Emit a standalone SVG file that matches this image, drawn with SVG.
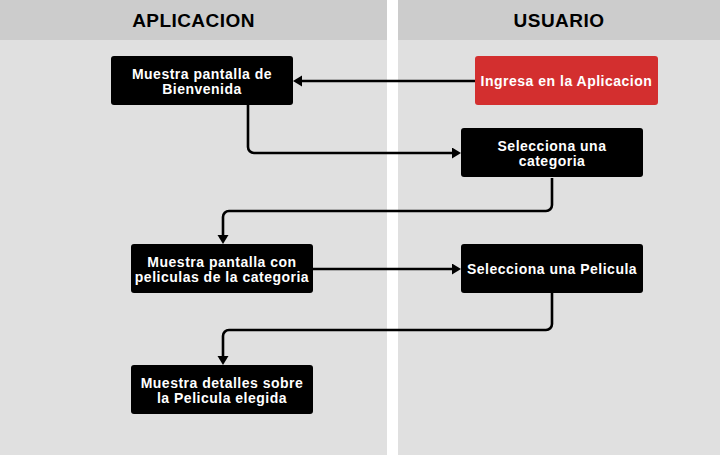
<svg xmlns="http://www.w3.org/2000/svg" width="720" height="456" viewBox="0 0 720 456">
<style>
.lane{fill:#e0e0e0}
.head{fill:#cccccc}
.title{font-family:"Liberation Sans",Arial,sans-serif;font-weight:bold;font-size:19px;fill:#000;text-anchor:middle;letter-spacing:0.45px}
.box{fill:#000}
.red{fill:#d32f2f}
.lbl{font-family:"Liberation Sans",Arial,sans-serif;font-weight:bold;font-size:14px;fill:#fff;text-anchor:middle;letter-spacing:0.5px}
.edge{fill:none;stroke:#000;stroke-width:2.6}
</style>
<defs>
<marker id="ah" markerUnits="userSpaceOnUse" markerWidth="10" markerHeight="12" refX="0" refY="5.5" orient="auto">
<path d="M0,0 L9,5.5 L0,11 z" fill="#000"/>
</marker>
</defs>
<g id="lanes">
<rect class="lane" x="0" y="0" width="387" height="455"/>
<rect class="head" x="0" y="0" width="387" height="40"/>
<text class="title" x="193.5" y="26.7">APLICACION</text>
<rect class="lane" x="398" y="0" width="322" height="455"/>
<rect class="head" x="398" y="0" width="322" height="40"/>
<text class="title" x="559" y="26.7">USUARIO</text>
</g>
<g id="connectors">
<path class="edge" marker-end="url(#ah)" d="M475,81 H302"/>
<path class="edge" marker-end="url(#ah)" d="M248,105 V147 A6,6 0 0 0 254,153 H452"/>
<path class="edge" marker-end="url(#ah)" d="M552,178 V205 A6,6 0 0 1 546,211 H229 A6,6 0 0 0 223,217 V235"/>
<path class="edge" marker-end="url(#ah)" d="M313,269 H452"/>
<path class="edge" marker-end="url(#ah)" d="M552,293 V324 A6,6 0 0 1 546,330 H229 A6,6 0 0 0 223,336 V356"/>
</g>
<g id="n1">
<rect class="box" x="111" y="56" width="182" height="49" rx="3"/>
<text class="lbl" x="202" y="78.7">Muestra pantalla de</text>
<text class="lbl" x="202" y="93.5">Bienvenida</text>
</g>
<g id="n2">
<rect class="red" x="475" y="56" width="183" height="49" rx="3"/>
<text class="lbl" x="566.5" y="85.5">Ingresa en la Aplicacion</text>
</g>
<g id="n3">
<rect class="box" x="461" y="128" width="182" height="49" rx="3"/>
<text class="lbl" x="552" y="150.5">Selecciona una</text>
<text class="lbl" x="552" y="165.5">categoria</text>
</g>
<g id="n4">
<rect class="box" x="131" y="244" width="182" height="49" rx="3"/>
<text class="lbl" x="222" y="267.3">Muestra pantalla con</text>
<text class="lbl" x="222" y="282.3">peliculas de la categoria</text>
</g>
<g id="n5">
<rect class="box" x="461" y="244" width="182" height="49" rx="3"/>
<text class="lbl" x="552" y="274">Selecciona una Pelicula</text>
</g>
<g id="n6">
<rect class="box" x="131" y="365" width="182" height="49" rx="3"/>
<text class="lbl" x="222" y="388.3">Muestra detalles sobre</text>
<text class="lbl" x="222" y="403.3">la Pelicula elegida</text>
</g>
</svg>
